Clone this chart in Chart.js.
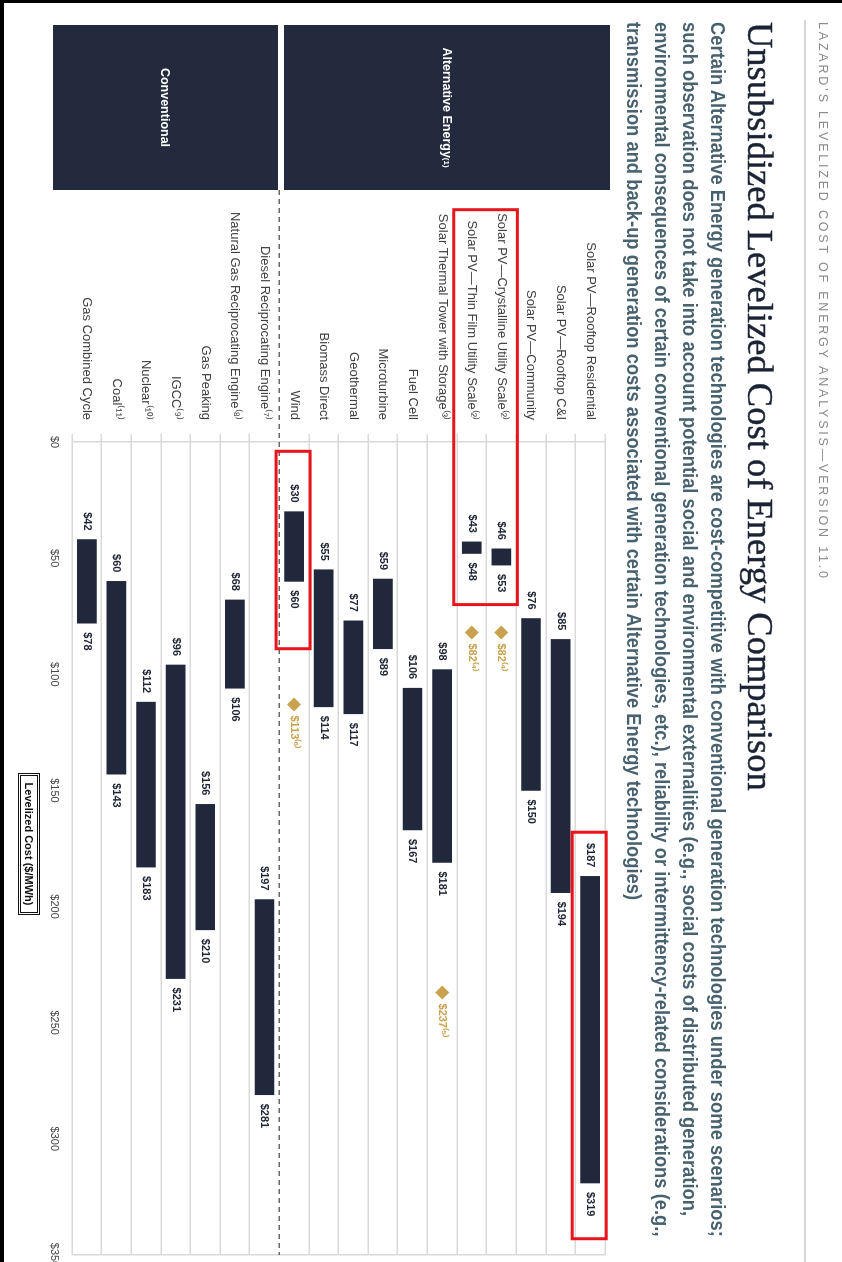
<!DOCTYPE html>
<html>
<head>
<meta charset="utf-8">
<title>Unsubsidized Levelized Cost of Energy Comparison</title>
<script src="https://cdn.jsdelivr.net/npm/chart.js@4.4.1/dist/chart.umd.min.js"></script>
<style>
  html, body { margin: 0; padding: 0; background: #fff; }
  body { width: 842px; height: 1262px; overflow: hidden; position: relative; font-family: "Liberation Sans", Arial, sans-serif; }
  /* the slide is laid out landscape and turned a quarter clockwise */
  #slide { position: absolute; left: 0; top: 0; width: 1262px; height: 842px; transform-origin: 0 0; transform: translateX(842px) rotate(90deg); background: #fff; }
  #chart { position: absolute; left: 0; top: 0; }
  .kicker { position: absolute; left: 22px; top: 12px; font-size: 12.5px; line-height: 14px; letter-spacing: 2.8px; color: #8a8a8a; white-space: nowrap; }
  .rule { position: absolute; left: 20px; top: 36px; width: 1242px; height: 2px; background: #d6d6d6; }
  h1 { position: absolute; left: 22px; top: 64px; margin: 0; font: normal 36.5px/36px "Liberation Serif", "Times New Roman", serif; color: #1b2234; white-space: nowrap; -webkit-text-stroke: 0.4px #1b2234; }
  #subtitle { position: absolute; left: 22px; top: 110px; transform-origin: 0 0; font-weight: bold; font-size: 19.5px; line-height: 28px; color: #48616f; }
  #subtitle span { display: block; width: max-content; white-space: nowrap; }
  .panel { position: absolute; left: 25px; width: 165px; background: #232a3e; color: #fff; font-weight: bold; font-size: 12.5px; display: flex; align-items: center; justify-content: center; }
  .panel sup { font-size: 8px; }
  .axis-title { position: absolute; left: 773px; top: 802px; width: 142px; height: 22px; box-sizing: border-box; border: 3px double #111; font-weight: bold; font-size: 11px; line-height: 16px; text-align: center; color: #111; }
  .frame-top { position: absolute; left: 0; top: 0; width: 842px; height: 3px; background: #000; }
  .frame-left { position: absolute; left: 0; top: 0; width: 4px; height: 1262px; background: #000; }
</style>
</head>
<body>
<div id="slide">
  <canvas id="chart" width="1262" height="842"></canvas>
  <div class="kicker">LAZARD’S LEVELIZED COST OF ENERGY ANALYSIS—VERSION 11.0</div>
  <div class="rule"></div>
  <h1>Unsubsidized Levelized Cost of Energy Comparison</h1>
  <div id="subtitle">
    <span>Certain Alternative Energy generation technologies are cost-competitive with conventional generation technologies under some scenarios;</span>
    <span>such observation does not take into account potential social and environmental externalities (e.g., social costs of distributed generation,</span>
    <span>environmental consequences of certain conventional generation technologies, etc.), reliability or intermittency-related considerations (e.g.,</span>
    <span>transmission and back-up generation costs associated with certain Alternative Energy technologies)</span>
  </div>
  <div class="panel" style="top:232px;height:326px;">Alternative Energy<sup>(1)</sup></div>
  <div class="panel" style="top:564px;height:225px;">Conventional</div>
  <div class="axis-title">Levelized Cost ($/MWh)</div>
</div>
<div class="frame-top"></div>
<div class="frame-left"></div>

<script>
const technologies = [
    'Solar PV—Rooftop Residential',
    'Solar PV—Rooftop C&I',
    'Solar PV—Community',
    'Solar PV—Crystalline Utility Scale⁽²⁾',
    'Solar PV—Thin Film Utility Scale⁽²⁾',
    'Solar Thermal Tower with Storage⁽³⁾',
    'Fuel Cell',
    'Microturbine',
    'Geothermal',
    'Biomass Direct',
    'Wind',
    'Diesel Reciprocating Engine⁽⁷⁾',
    'Natural Gas Reciprocating Engine⁽⁸⁾',
    'Gas Peaking',
    'IGCC⁽⁹⁾',
    'Nuclear⁽¹⁰⁾',
    'Coal⁽¹¹⁾',
    'Gas Combined Cycle'
];
const lowCost  = [187, 85, 76, 46, 43, 98, 106, 59, 77, 55, 30, 197, 68, 156, 96, 112, 60, 42];
const highCost = [319, 194, 150, 53, 48, 181, 167, 89, 117, 114, 60, 281, 106, 210, 231, 183, 143, 78];
// single-point estimates shown as diamonds
const pointCost = [null, null, null, 82, 82, 237, null, null, null, null, 113, null, null, null, null, null, null, null];
const pointNote = [null, null, null, '⁽⁴⁾', '⁽⁴⁾', '⁽⁵⁾', null, null, null, null, '⁽⁶⁾', null, null, null, null, null, null, null];
const costTicks = [0, 50, 100, 150, 200, 250, 300, 350];
const firstConventional = 11;

// highlighted groups: row range and cost range
const highlights = [
    { rows: [3, 4], cost: [-100, 70] },
    { rows: [10, 10], cost: [4, 89] },
    { rows: [0, 0], cost: [168, 343] }
];

// squeeze the subtitle block to the slide width
const sub = document.getElementById('subtitle');
sub.style.transform = `scaleX(${1215 / sub.firstElementChild.offsetWidth})`;

const NAVY = '#22283b';
const GOLD = '#c9a14f';
const GRID = '#d9d9d9';

const costLabels = {
    id: 'costLabels',
    beforeDatasetsDraw(chart) {
        // dashed divider between alternative and conventional
        const { ctx, chartArea, scales } = chart;
        const y = (scales.y.getPixelForValue(firstConventional - 1) + scales.y.getPixelForValue(firstConventional)) / 2;
        ctx.save();
        ctx.strokeStyle = '#666';
        ctx.lineWidth = 1.5;
        ctx.setLineDash([5, 4]);
        ctx.beginPath();
        ctx.moveTo(190, y);
        ctx.lineTo(chartArea.right, y);
        ctx.stroke();
        ctx.restore();
    },
    afterDatasetsDraw(chart) {
        const { ctx } = chart;
        ctx.save();
        ctx.font = 'bold 11px "Liberation Sans", Arial, sans-serif';
        ctx.textBaseline = 'middle';
        ctx.fillStyle = '#1f2535';
        chart.getDatasetMeta(0).data.forEach((bar, i) => {
            const { x, base, y } = bar.getProps(['x', 'base', 'y'], true);
            ctx.textAlign = 'right';
            ctx.fillText('$' + lowCost[i], Math.min(x, base) - 9, y);
            ctx.textAlign = 'left';
            ctx.fillText('$' + highCost[i], Math.max(x, base) + 9, y);
        });
        ctx.fillStyle = GOLD;
        ctx.textAlign = 'left';
        chart.getDatasetMeta(1).data.forEach((pt, i) => {
            if (pointCost[i] == null) return;
            ctx.fillText('$' + pointCost[i] + pointNote[i], pt.x + 11, pt.y);
        });
        ctx.restore();
    },
    afterDraw(chart) {
        const { ctx, scales } = chart;
        ctx.save();
        ctx.strokeStyle = '#e8141c';
        ctx.lineWidth = 3;
        highlights.forEach(h => {
            const x0 = scales.x.getPixelForValue(h.cost[0]);
            const x1 = scales.x.getPixelForValue(h.cost[1]);
            const y0 = scales.y.getPixelForValue(h.rows[0]) - 16;
            const y1 = scales.y.getPixelForValue(h.rows[1]) + 18;
            ctx.strokeRect(x0, y0, x1 - x0, y1 - y0);
        });
        ctx.restore();
    }
};

new Chart(document.getElementById('chart'), {
    data: {
        labels: technologies,
        datasets: [
            {
                type: 'bar',
                data: lowCost.map((lo, i) => [lo, highCost[i]]),
                backgroundColor: NAVY,
                barThickness: 19
            },
            {
                type: 'line',
                data: pointCost,
                showLine: false,
                pointStyle: 'rectRot',
                pointRadius: 7,
                pointBackgroundColor: GOLD,
                pointBorderWidth: 0
            }
        ]
    },
    options: {
        indexAxis: 'y',
        responsive: false,
        animation: false,
        devicePixelRatio: 1,
        layout: { padding: { top: 237, right: 5, bottom: 0, left: 0 } },
        plugins: { legend: { display: false }, tooltip: { enabled: false } },
        scales: {
            x: {
                type: 'linear',
                min: costTicks[0],
                max: costTicks[costTicks.length - 1],
                afterBuildTicks: axis => { axis.ticks = costTicks.map(v => ({ value: v })); },
                afterFit: axis => {
                    axis.height = 72;
                    // let the last tick label run past the plot edge
                    axis.paddingLeft = 0;
                    axis.paddingRight = 0;
                },
                border: { display: false },
                grid: {
                    drawTicks: false,
                    lineWidth: 1.5,
                    color: c => (c.tick && (c.tick.value === 0 || c.tick.value === 350)) ? GRID : 'rgba(0,0,0,0)'
                },
                ticks: {
                    padding: 11,
                    color: '#444',
                    font: { family: '"Liberation Sans", Arial, sans-serif', size: 11 },
                    callback: v => '$' + v
                }
            },
            y: {
                type: 'category',
                afterFit: axis => { axis.width = 442; },
                border: { display: false },
                grid: {
                    offset: true,
                    lineWidth: 1.5,
                    tickLength: 8,
                    color: c => c.index === firstConventional ? 'rgba(0,0,0,0)' : GRID
                },
                ticks: {
                    autoSkip: false,
                    padding: 14,
                    color: '#404040',
                    font: { family: '"Liberation Sans", Arial, sans-serif', size: 13 }
                }
            }
        }
    },
    plugins: [costLabels]
});
</script>
</body>
</html>
